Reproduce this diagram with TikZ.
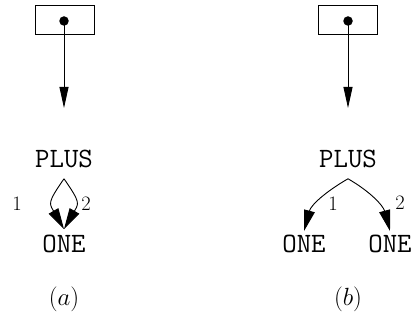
\documentclass[tikz,border=0pt]{standalone}
\usetikzlibrary{arrows.meta}
\begin{document}
\begin{tikzpicture}[x=1pt,y=1pt,
  line width=0.9pt,
  cell/.style={draw, minimum width=59pt, minimum height=29pt, inner sep=0pt},
  pointer/.style={circle, fill, inner sep=0pt, minimum size=9.5pt},
  word/.style={font=\fontsize{28}{34}\selectfont\ttfamily, inner xsep=0pt, anchor=base},
  edgelabel/.style={font=\fontsize{20.5}{24}\selectfont, inner sep=0pt},
  caption/.style={font=\fontsize{28}{34}\selectfont, inner sep=0pt, anchor=base},
  head/.style={-{Triangle[length=21pt,width=9pt]}},
  fathead/.style={-{Triangle[length=21pt,width=11pt]}},
]
\useasboundingbox (0,0) rectangle (411,320);

% (a): both edges of PLUS lead to one shared ONE node
\node[cell] (boxa) at (64.5,300.5) {};
\node[pointer] (dota) at (64,299) {};
\coordinate (enda) at (64,212);
\draw[head] (dota.center) -- (enda);
\node[word, inner ysep=10pt] (plusa) at (64,152) {PLUS};
\node[word, inner ysep=6pt] (onea) at (64,67) {ONE};
\draw[fathead] (plusa.south) to[out=-125, in=120, looseness=1.5] (onea.north);
\draw[fathead] (plusa.south) to[out=-55, in=60, looseness=1.5] (onea.north);
\node[edgelabel] (la1) at (17,116) {1};
\node[edgelabel] (la2) at (86,116) {2};
\node[caption] (capa) at (64,14) {$(a)$};

% (b): each edge of PLUS leads to its own ONE node
\node[cell] (boxb) at (347.5,300.5) {};
\node[pointer] (dotb) at (348,299) {};
\coordinate (endb) at (348,212);
\draw[head] (dotb.center) -- (endb);
\node[word, inner ysep=10pt] (plusb) at (348,152) {PLUS};
\node[word, inner ysep=4pt] (oneb1) at (304,67) {ONE};
\node[word, inner ysep=4pt] (oneb2) at (390,67) {ONE};
\draw[fathead] (plusb.south) to[out=-150, in=75] (oneb1.north);
\draw[fathead] (plusb.south) to[out=-30, in=105] (oneb2.north);
\node[edgelabel] (lb1) at (333,116) {1};
\node[edgelabel] (lb2) at (400,117) {2};
\node[caption] (capb) at (348,14) {$(b)$};
\end{tikzpicture}
\end{document}
